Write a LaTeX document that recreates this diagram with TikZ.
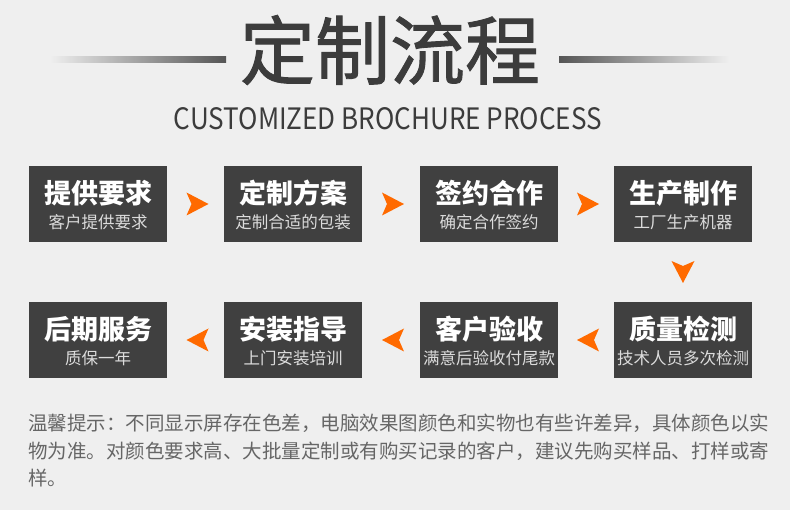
\documentclass[tikz,border=0pt]{standalone}
\usepackage{fontspec}
\usepackage{graphicx}
\setmainfont{Noto Sans CJK SC}
\newfontfamily\titlefont{Noto Sans CJK SC}[FakeBold=1.2]
\usetikzlibrary{calc}
\definecolor{bg}{HTML}{EFEFEF}
\definecolor{boxc}{HTML}{404040}
\definecolor{orng}{HTML}{FF6A00}
\definecolor{titc}{HTML}{3C3C3C}
\definecolor{subc}{HTML}{DCDCDC}
\definecolor{notec}{HTML}{666666}
\definecolor{linec}{HTML}{555555}
\tikzset{
  stepbox/.style={fill=boxc, minimum width=138pt, minimum height=76pt, inner sep=0pt},
  steptitle/.style={inner sep=0pt, text=white, font=\fontsize{27}{27}\selectfont\bfseries},
  stepsub/.style={inner sep=0pt, text=subc, font=\fontsize{16.5}{16.5}\selectfont},
  notetext/.style={inner sep=0pt, anchor=base west, text=notec, font=\fontsize{19.5}{19.5}\selectfont},
  tri/.pic={\fill[orng] (11,0) -- (-11,11.5) -- (-6,0) -- (-11,-11.5) -- cycle;}
}
\newcommand\flowbox[5]{%
  \node[stepbox] (#1) at (#2,#3) {};
  \node[steptitle] (#1t) at ($(#1.center)+(0,-11)$) {#4};
  \node[stepsub] (#1s) at ($(#1.center)+(0,18)$) {#5};
}
\begin{document}
\begin{tikzpicture}[x=1pt,y=-1pt]
\useasboundingbox (0,0) rectangle (790,510);
\fill[bg] (0,0) rectangle (790,510);
% title
\node[inner sep=0pt, text=titc, font=\fontsize{75}{75}\selectfont\titlefont] (title) at (390,50) {定制流程};
\shade[left color=bg, right color=linec] (50,57) rectangle (226,63);
\shade[left color=linec, right color=bg] (559,57) rectangle (729,63);
\node[inner sep=0pt, text=titc] (subtitle) at (388,119)
  {\resizebox{428pt}{22pt}{\fontsize{30}{30}\selectfont CUSTOMIZED BROCHURE PROCESS}};
% boxes
\flowbox{b1}{98}{204}{提供要求}{客户提供要求}
\flowbox{b2}{293}{204}{定制方案}{定制合适的包装}
\flowbox{b3}{489}{204}{签约合作}{确定合作签约}
\flowbox{b4}{683}{204}{生产制作}{工厂生产机器}
\flowbox{b5}{683}{340}{质量检测}{技术人员多次检测}
\flowbox{b6}{489}{340}{客户验收}{满意后验收付尾款}
\flowbox{b7}{293}{340}{安装指导}{上门安装培训}
\flowbox{b8}{98}{340}{后期服务}{质保一年}
% arrows
\coordinate (a12) at ($(b1.east)!0.5!(b2.west)+(2,0)$);
\coordinate (a23) at ($(b2.east)!0.5!(b3.west)+(2,0)$);
\coordinate (a34) at ($(b3.east)!0.5!(b4.west)+(2,0)$);
\coordinate (a45) at ($(b4.south)!0.5!(b5.north)$);
\coordinate (a56) at ($(b5.west)!0.5!(b6.east)+(2,0)$);
\coordinate (a67) at ($(b6.west)!0.5!(b7.east)+(2,0)$);
\coordinate (a78) at ($(b7.west)!0.5!(b8.east)+(2,0)$);
\pic at (a12) {tri};
\pic at (a23) {tri};
\pic at (a34) {tri};
\pic[rotate=-90] at (a45) {tri};
\pic[rotate=180] at (a56) {tri};
\pic[rotate=180] at (a67) {tri};
\pic[rotate=180] at (a78) {tri};
% note
\node[notetext] (note1) at (28,431) {温馨提示：不同显示屏存在色差，电脑效果图颜色和实物也有些许差异，具体颜色以实};
\node[notetext] (note2) at (28,458) {物为准。对颜色要求高、大批量定制或有购买记录的客户，建议先购买样品、打样或寄};
\node[notetext] (note3) at (28,485) {样。};
\end{tikzpicture}
\end{document}
